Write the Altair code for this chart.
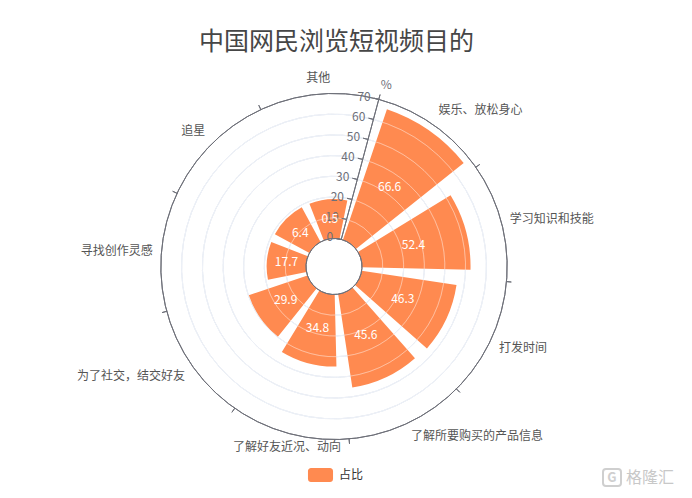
import math
import altair as alt
import pandas as pd

# ---------------- data ----------------
categories = ["娱乐、放松身心", "学习知识和技能", "打发时间", "了解所要购买的产品信息",
              "了解好友近况、动向", "为了社交，结交好友", "寻找创作灵感", "追星", "其他"]
values = [66.6, 52.4, 46.3, 45.6, 34.8, 29.9, 17.7, 6.4, 0.5]
radial_ticks = [0, 10, 20, 30, 40, 50, 60, 70]
series_name = "占比"
title_text = "中国网民浏览短视频目的"
unit_text = "%"
watermark = "格隆汇"
logo_letter = "G"

# ---------------- layout / style ----------------
FONT = "Noto Sans CJK SC"
N = len(categories)
START = math.pi / 12            # first category boundary at 15° clockwise from north
CX, CY = 326, 258.5              # polar centre (chart coords)
R_IN, R_OUT = 28, 173            # pixel radii of value 0 and 70
R_MAX = 70
MIN_SHOWN = 19                   # minimum drawn bar height (data units)
GAP = 0.09                       # fraction of band left empty on each side
BAR_COLOR = "#FF8A50"
AXIS_COLOR = "#6E7079"
GRID_COLOR = "#E0E6F1"
LABEL_R = R_OUT + 9

theta_scale = alt.Scale(domain=[0, N], range=[START, START + 2 * math.pi])
r_scale = alt.Scale(type="linear", domain=[0, R_MAX], range=[R_IN, R_OUT])

X = alt.value(CX)
Y = alt.value(CY)

df = pd.DataFrame({"cat": categories, "value": values, "idx": list(range(N)),
                   "series": [series_name] * N})
ticks_df = pd.DataFrame({"v": radial_ticks})
bounds_df = pd.DataFrame({"idx": list(range(N))})

# grid circles
grid_base = alt.Chart(ticks_df).transform_filter(
    f"datum.v > 0 && datum.v < {R_MAX}"
).transform_calculate(t0="0", t1=str(N)).encode(
    x=X, y=Y,
    theta=alt.Theta("t0:Q", scale=theta_scale, stack=False),
    theta2=alt.Theta2("t1"),
    radius=alt.Radius("v:Q", scale=r_scale),
    radius2=alt.Radius2("v"),
)
grid_under = grid_base.mark_arc(fillOpacity=0, stroke=GRID_COLOR, strokeWidth=1)
grid_over = grid_base.mark_arc(fillOpacity=0, stroke="#FFFFFF", strokeOpacity=0.25, strokeWidth=1)

# bars
bars = alt.Chart(df).transform_calculate(
    t0=f"datum.idx + {GAP}", t1=f"datum.idx + {1 - GAP}",
    shown=f"max(datum.value, {MIN_SHOWN})", base="0",
).mark_arc(stroke=None).encode(
    x=X, y=Y,
    theta=alt.Theta("t0:Q", scale=theta_scale, stack=False),
    theta2=alt.Theta2("t1"),
    radius=alt.Radius("shown:Q", scale=r_scale),
    radius2=alt.Radius2("base"),
    color=alt.Color("series:N", scale=alt.Scale(range=[BAR_COLOR]),
                    legend=alt.Legend(
                        title=None, orient="none", legendX=305.5, legendY=460,
                        direction="horizontal", padding=0,
                        symbolType="M-1.36,-1 H1.36 A0.43,0.43 0 0 1 1.79,-0.57 V0.57 A0.43,0.43 0 0 1 1.36,1 H-1.36 A0.43,0.43 0 0 1 -1.79,0.57 V-0.57 A0.43,0.43 0 0 1 -1.36,-1 Z",
                        symbolSize=196, symbolStrokeWidth=0, symbolOpacity=1,
                        labelOffset=11.5, labelFontSize=12, labelColor="#333333",
                        labelFont=FONT)),
)

# bar value labels
bar_labels = alt.Chart(df).transform_calculate(
    tm="datum.idx + 0.5",
    mid=f"max(datum.value, {MIN_SHOWN}) / 2",
    lab="format(datum.value, '.1f')",
).mark_text(color="white", fontSize=12, font=FONT, align="center", baseline="middle").encode(
    x=X, y=Y,
    theta=alt.Theta("tm:Q", scale=theta_scale, stack=False),
    radius=alt.Radius("mid:Q", scale=r_scale),
    text="lab:N",
)

# outer (angle axis) circle and inner circle
circles_df = pd.DataFrame({"v": [0, R_MAX]})
circles = alt.Chart(circles_df).transform_calculate(t0="0", t1=str(N)).mark_arc(
    fillOpacity=0, stroke=AXIS_COLOR, strokeWidth=1
).encode(
    x=X, y=Y,
    theta=alt.Theta("t0:Q", scale=theta_scale, stack=False),
    theta2=alt.Theta2("t1"),
    radius=alt.Radius("v:Q", scale=r_scale),
    radius2=alt.Radius2("v"),
)

# category boundary ticks (outward)
cat_ticks = alt.Chart(bounds_df).mark_arc(
    fillOpacity=0, stroke=AXIS_COLOR, strokeWidth=1
).encode(
    x=X, y=Y,
    theta=alt.Theta("idx:Q", scale=theta_scale, stack=False),
    theta2=alt.Theta2("idx"),
    radius=alt.value(R_OUT + 5),
    radius2=alt.value(R_OUT),
)

# radial axis line
axis_df = pd.DataFrame({"lo": [0], "hi": [R_MAX], "t": [0]})
axis_line = alt.Chart(axis_df).mark_arc(
    fillOpacity=0, stroke=AXIS_COLOR, strokeWidth=1
).encode(
    x=X, y=Y,
    theta=alt.Theta("t:Q", scale=theta_scale, stack=False),
    theta2=alt.Theta2("t"),
    radius=alt.Radius("hi:Q", scale=r_scale),
    radius2=alt.Radius2("lo"),
)

# radial axis ticks (short arcs to the left of axis)
band_rad = 2 * math.pi / N
radial_tick_marks = alt.Chart(ticks_df).transform_calculate(
    t0=f"-5 / ({R_IN} + datum.v * {(R_OUT - R_IN) / R_MAX}) / {band_rad}",
    t1="0",
).mark_arc(fillOpacity=0, stroke=AXIS_COLOR, strokeWidth=1).encode(
    x=X, y=Y,
    theta=alt.Theta("t0:Q", scale=theta_scale, stack=False),
    theta2=alt.Theta2("t1"),
    radius=alt.Radius("v:Q", scale=r_scale),
    radius2=alt.Radius2("v"),
)

radial_tick_labels = alt.Chart(ticks_df).transform_calculate(t="0").mark_text(
    align="right", baseline="middle", dx=-8, dy=-2, fontSize=12, font=FONT, color=AXIS_COLOR
).encode(
    x=X, y=Y,
    theta=alt.Theta("t:Q", scale=theta_scale, stack=False),
    radius=alt.Radius("v:Q", scale=r_scale),
    text="v:N",
)

unit_label = alt.Chart(pd.DataFrame({"u": [unit_text], "t": [0]})).mark_text(
    align="left", baseline="middle", dx=-2, fontSize=12, font=FONT, color=AXIS_COLOR
).encode(
    x=X, y=Y,
    theta=alt.Theta("t:Q", scale=theta_scale, stack=False),
    radius=alt.value(R_OUT + 15),
    text="u:N",
)

# category labels, aligned according to their direction
cat_layers = []
angle_expr = f"({START} + (datum.idx + 0.5) * {band_rad})"
for align, hcond in [("left", f"sin({angle_expr}) >= 0.3"),
                     ("right", f"sin({angle_expr}) <= -0.3"),
                     ("center", f"abs(sin({angle_expr})) < 0.3")]:
    for base, vcond in [("bottom", f"cos({angle_expr}) >= 0.3"),
                        ("top", f"cos({angle_expr}) <= -0.3"),
                        ("middle", f"abs(cos({angle_expr})) < 0.3")]:
        cat_layers.append(
            alt.Chart(df).transform_filter(f"({hcond}) && ({vcond})").transform_calculate(
                tm="datum.idx + 0.5"
            ).mark_text(align=align, baseline=base, fontSize=12, font=FONT, color="#555555").encode(
                x=X, y=Y,
                theta=alt.Theta("tm:Q", scale=theta_scale, stack=False),
                radius=alt.value(LABEL_R),
                text="cat:N",
            )
        )

title = alt.Chart(pd.DataFrame({"t": [title_text]})).mark_text(
    fontSize=25, font=FONT, color="#464646", align="center", baseline="middle"
).encode(x=alt.value(328.5), y=alt.value(33.5), text="t:N")

# watermark (logo box + text)
wm_box = alt.Chart(pd.DataFrame({"k": [0]})).mark_rect(
    fillOpacity=0, stroke="#CFCFCF", strokeWidth=2, cornerRadius=3
).encode(x=alt.value(595), x2=alt.value(613), y=alt.value(461), y2=alt.value(478))
wm_g = alt.Chart(pd.DataFrame({"t": [logo_letter]})).mark_text(
    fontSize=13, font=FONT, fontWeight="bold", color="#CFCFCF", align="center", baseline="middle"
).encode(x=alt.value(604), y=alt.value(469.5), text="t:N")
wm = alt.Chart(pd.DataFrame({"t": [watermark]})).mark_text(
    fontSize=16, font=FONT, color="#C8C8C8", align="left", baseline="middle"
).encode(x=alt.value(618), y=alt.value(469.5), text="t:N")

chart = alt.layer(
    grid_under, bars, grid_over, circles, cat_ticks, axis_line, radial_tick_marks,
    radial_tick_labels, unit_label, bar_labels, *cat_layers, title, wm_box, wm_g, wm
).properties(
    width=676, height=482, autosize=alt.AutoSizeParams(type="none"), padding=0
).configure(font=FONT).configure_view(stroke=None)

chart.save("out.html", embed_options={"renderer": "svg", "actions": False})
